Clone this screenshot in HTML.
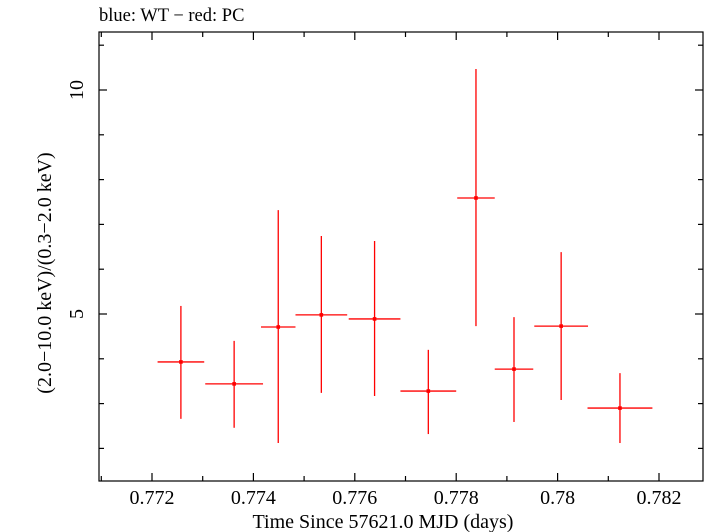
<!DOCTYPE html>
<html><head><meta charset="utf-8"><style>
body{margin:0;background:#fff;}
svg{display:block;font-family:"Liberation Serif",serif;}
</style></head><body>
<svg width="705" height="532" viewBox="0 0 705 532" xmlns="http://www.w3.org/2000/svg">
<rect width="705" height="532" fill="#fff"/>
<text x="99" y="21" font-size="18.5" fill="#000">blue: WT − red: PC</text>
<rect x="99" y="32" width="604" height="449" fill="none" stroke="#000" stroke-width="1.2"/>
<g id="axes"></g>
<g id="series"></g>
<text x="383" y="528" font-size="20" text-anchor="middle">Time Since 57621.0 MJD (days)</text>
<text transform="translate(51,273) rotate(-90)" font-size="20" text-anchor="middle">(2.0−10.0 keV)/(0.3−2.0 keV)</text>
</svg>
<script>
const xCenters=[0.77257,0.77362,0.77449,0.77534,0.77639,0.77745,0.77839,0.77914,0.78007,0.78123];
const xErrs=[0.00046,0.00057,0.00034,0.00051,0.00051,0.00055,0.00037,0.00038,0.00053,0.00064];
const yValues=[3.93,3.44,4.71,4.98,4.89,3.28,7.59,3.77,4.73,2.90];
const yUpper=[5.18,4.40,7.32,6.74,6.63,4.20,10.47,4.93,6.38,3.68];
const yLower=[2.66,2.46,2.12,3.24,3.17,2.32,4.73,2.59,3.08,2.12];
const xTickLabels=["0.772","0.774","0.776","0.778","0.78","0.782"];
const xTickValues=[0.772,0.774,0.776,0.778,0.780,0.782];
const yTickLabels=["5","10"];
const yTickValues=[5,10];
const NS="http://www.w3.org/2000/svg";
const L=99,R=703,T=32,B=481;
const X=v=>152+(v-0.772)*50700;
const Y=v=>314-(v-5)*44.8;
function mk(tag,attrs,parent){const e=document.createElementNS(NS,tag);for(const k in attrs)e.setAttribute(k,attrs[k]);parent.appendChild(e);return e;}
const ax=document.getElementById('axes');
for(let v=0.771;v<=0.7835;v+=0.001){const x=X(v);if(x<L||x>R)continue;
 const major=Math.abs(Math.round(v*1000)%2)===0;const len=major?8:5;
 const t1=mk('line',{x1:x,y1:B,x2:x,y2:B-len,stroke:'#000','stroke-width':1.2},ax);
 
 
 const t2=mk('line',{x1:x,y1:T,x2:x,y2:T+len,stroke:'#000','stroke-width':1.2},ax);
 
 }
xTickValues.forEach((v,i)=>{const t=mk('text',{x:X(v),y:504,'font-size':20,'text-anchor':'middle'},ax);t.textContent=xTickLabels[i];
 
 });
for(let v=2;v<=11;v++){const y=Y(v);if(y<T||y>B)continue;const len=(v%5===0)?8:5;
 const t1=mk('line',{x1:L,y1:y,x2:L+len,y2:y,stroke:'#000','stroke-width':1.2},ax);
 
 
 const t2=mk('line',{x1:R,y1:y,x2:R-len,y2:y,stroke:'#000','stroke-width':1.2},ax);
 
 }
yTickValues.forEach((v,i)=>{const t=mk('text',{transform:`translate(83,${Y(v)}) rotate(-90)`,'font-size':20,'text-anchor':'middle'},ax);t.textContent=yTickLabels[i];
 
 });
const s=document.getElementById('series');
xCenters.forEach((xc,i)=>{
 const g=mk('g',{stroke:'#f00','stroke-width':1.3},s);
 
 
 mk('line',{x1:X(xc-xErrs[i]),y1:Y(yValues[i]),x2:X(xc+xErrs[i]),y2:Y(yValues[i])},g);
 mk('line',{x1:X(xc),y1:Y(yUpper[i]),x2:X(xc),y2:Y(yLower[i])},g);
 mk('rect',{x:X(xc)-1.8,y:Y(yValues[i])-1.8,width:3.6,height:3.6,fill:'#f00',stroke:'none'},g);
});
</script>
</body></html>
